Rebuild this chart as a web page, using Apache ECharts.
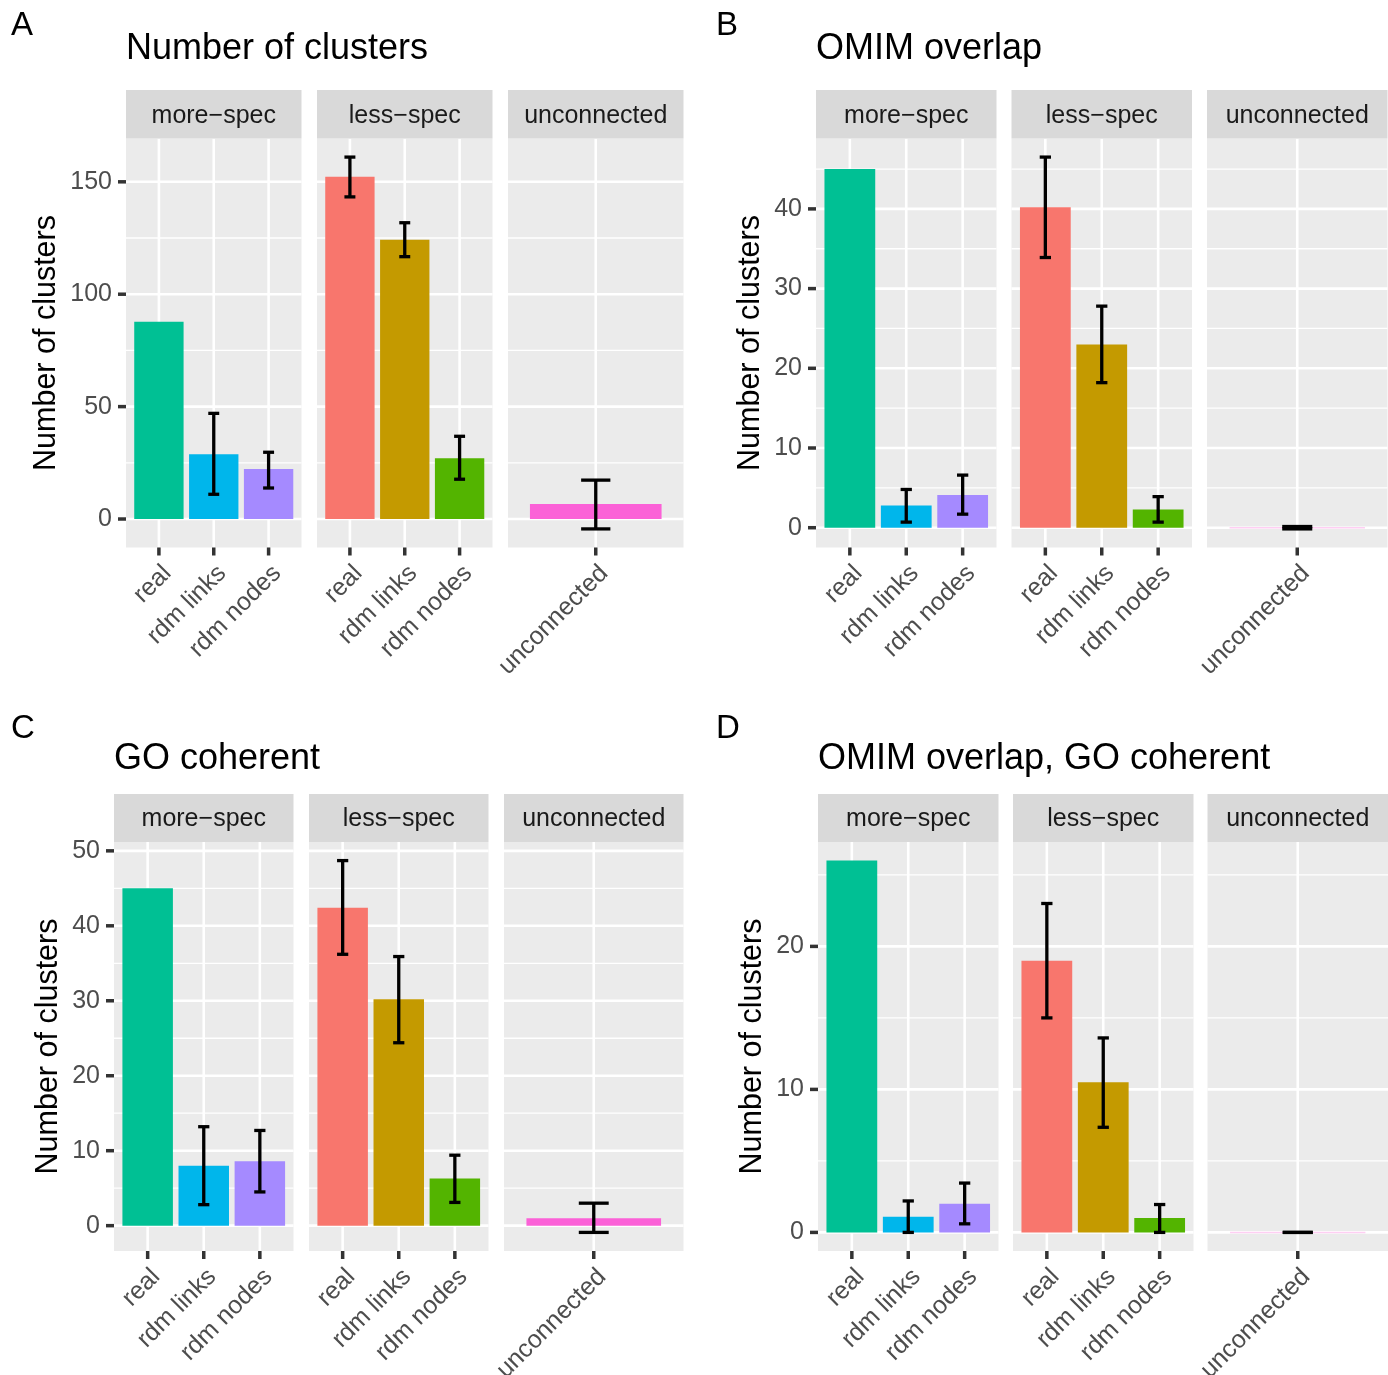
<!DOCTYPE html>
<html><head><meta charset="utf-8">
<script src="https://cdn.jsdelivr.net/npm/echarts@6.0.0/dist/echarts.min.js"></script>
<style>html,body{margin:0;padding:0;background:#fff}#c{width:1388px;height:1375px}</style>
</head><body><div id="c"></div>
<script>
// ---------- data ----------
const categories = ['real', 'rdm links', 'rdm nodes'];
const unconnectedCategories = ['unconnected'];
const facetLabels = ['more\u2212spec', 'less\u2212spec', 'unconnected'];
const panelTitles = ['Number of clusters', 'OMIM overlap', 'GO coherent', 'OMIM overlap, GO coherent'];
const panelLetters = ['A', 'B', 'C', 'D'];
const yAxisTitle = 'Number of clusters';

const moreSpecColors = ['#00C094', '#00B6EB', '#A58AFF'];
const lessSpecColors = ['#F8766D', '#C49A00', '#53B400'];
const unconnectedColors = ['#FB61D7'];

// Panel A: Number of clusters
const A_moreSpec = [87.8, 28.8, 22.2];
const A_moreSpecLow = [null, 11.0, 13.8];
const A_moreSpecHigh = [null, 47.0, 29.7];
const A_lessSpec = [152.2, 124.2, 27.0];
const A_lessSpecLow = [143.3, 116.7, 17.7];
const A_lessSpecHigh = [161.0, 131.8, 36.8];
const A_unconnected = [6.7];
const A_unconnectedLow = [-4.4];
const A_unconnectedHigh = [17.3];
const A_yTicks = [0, 50, 100, 150];
const A_yMinor = [25, 75, 125];

// Panel B: OMIM overlap
const B_moreSpec = [45.0, 2.8, 4.1];
const B_moreSpecLow = [null, 0.7, 1.7];
const B_moreSpecHigh = [null, 4.8, 6.6];
const B_lessSpec = [40.2, 23.0, 2.3];
const B_lessSpecLow = [33.9, 18.2, 0.7];
const B_lessSpecHigh = [46.5, 27.8, 3.9];
const B_unconnected = [0];
const B_unconnectedLow = [-0.15];
const B_unconnectedHigh = [0.15];
const B_yTicks = [0, 10, 20, 30, 40];
const B_yMinor = [5, 15, 25, 35, 45];

// Panel C: GO coherent
const C_moreSpec = [45.0, 8.0, 8.6];
const C_moreSpecLow = [null, 2.8, 4.5];
const C_moreSpecHigh = [null, 13.2, 12.7];
const C_lessSpec = [42.4, 30.2, 6.3];
const C_lessSpecLow = [36.2, 24.4, 3.1];
const C_lessSpecHigh = [48.7, 35.9, 9.4];
const C_unconnected = [1.0];
const C_unconnectedLow = [-0.9];
const C_unconnectedHigh = [3.0];
const C_yTicks = [0, 10, 20, 30, 40, 50];
const C_yMinor = [5, 15, 25, 35, 45];

// Panel D: OMIM overlap, GO coherent
const D_moreSpec = [26.0, 1.1, 2.0];
const D_moreSpecLow = [null, 0.0, 0.6];
const D_moreSpecHigh = [null, 2.2, 3.45];
const D_lessSpec = [19.0, 10.5, 1.0];
const D_lessSpecLow = [15.0, 7.35, 0.0];
const D_lessSpecHigh = [23.0, 13.6, 1.95];
const D_unconnected = [0];
const D_unconnectedLow = [0];
const D_unconnectedHigh = [0];
const D_yTicks = [0, 10, 20];
const D_yMinor = [5, 15, 25];

// ---------- assemble ----------
function facetSet(ms, msl, msh, ls, lsl, lsh, un, unl, unh) {
  return [
    { cats: categories, colors: moreSpecColors, v: ms, lo: msl, hi: msh },
    { cats: categories, colors: lessSpecColors, v: ls, lo: lsl, hi: lsh },
    { cats: unconnectedCategories, colors: unconnectedColors, v: un, lo: unl, hi: unh }
  ];
}
const panelData = [
  { ticks: A_yTicks, minor: A_yMinor, facets: facetSet(A_moreSpec, A_moreSpecLow, A_moreSpecHigh, A_lessSpec, A_lessSpecLow, A_lessSpecHigh, A_unconnected, A_unconnectedLow, A_unconnectedHigh) },
  { ticks: B_yTicks, minor: B_yMinor, facets: facetSet(B_moreSpec, B_moreSpecLow, B_moreSpecHigh, B_lessSpec, B_lessSpecLow, B_lessSpecHigh, B_unconnected, B_unconnectedLow, B_unconnectedHigh) },
  { ticks: C_yTicks, minor: C_yMinor, facets: facetSet(C_moreSpec, C_moreSpecLow, C_moreSpecHigh, C_lessSpec, C_lessSpecLow, C_lessSpecHigh, C_unconnected, C_unconnectedLow, C_unconnectedHigh) },
  { ticks: D_yTicks, minor: D_yMinor, facets: facetSet(D_moreSpec, D_moreSpecLow, D_moreSpecHigh, D_lessSpec, D_lessSpecLow, D_lessSpecHigh, D_unconnected, D_unconnectedLow, D_unconnectedHigh) }
];

// layout (pixels)
const layouts = [
  { lefts: [126, 317, 508], w: 175.5, stripTop: 90, plotTop: 138.5, plotH: 409, titleX: 126, titleY: 49, letterX: 11, letterY: 26, axisTitleX: 47 },
  { lefts: [816, 1011.5, 1207], w: 180.5, stripTop: 90, plotTop: 138.5, plotH: 409, titleX: 816, titleY: 49, letterX: 716, letterY: 26, axisTitleX: 751 },
  { lefts: [114, 309, 504], w: 179.5, stripTop: 794, plotTop: 842, plotH: 409, titleX: 114, titleY: 759, letterX: 11, letterY: 729, axisTitleX: 49 },
  { lefts: [818, 1013, 1207.5], w: 180.5, stripTop: 794, plotTop: 842, plotH: 409, titleX: 818, titleY: 759, letterX: 716, letterY: 729, axisTitleX: 753 }
];

const FONT = "'Liberation Sans', Arial, Helvetica, sans-serif";
const grids = [], xAxes = [], yAxes = [], series = [], graphics = [];

panelData.forEach((pd, pi) => {
  const L = layouts[pi];
  // shared y range (ggplot: 5% expansion of data range incl. 0)
  let lo = 0, hi = 0;
  pd.facets.forEach(f => {
    f.v.forEach(v => { lo = Math.min(lo, v); hi = Math.max(hi, v); });
    f.lo.forEach(v => { if (v != null) lo = Math.min(lo, v); });
    f.hi.forEach(v => { if (v != null) hi = Math.max(hi, v); });
  });
  const pad = (hi - lo) * 0.05;
  const yMin = lo - pad, yMax = hi + pad;

  // titles
  graphics.push({ type: 'text', x: L.letterX, y: L.letterY, style: { text: panelLetters[pi], font: '33px ' + FONT, fill: '#000', align: 'left', verticalAlign: 'middle' } });
  graphics.push({ type: 'text', x: L.titleX, y: L.titleY, style: { text: panelTitles[pi], font: '36px ' + FONT, fill: '#000', align: 'left', verticalAlign: 'middle' } });
  graphics.push({ type: 'text', x: L.axisTitleX, y: L.plotTop + L.plotH / 2, rotation: Math.PI / 2, style: { text: yAxisTitle, font: '30.5px ' + FONT, fill: '#000', align: 'center', verticalAlign: 'middle' } });

  pd.facets.forEach((f, fi) => {
    const gi = grids.length;
    const left = L.lefts[fi];
    grids.push({ left: left, top: L.plotTop, width: L.w, height: L.plotH, show: true, backgroundColor: '#EBEBEB', borderWidth: 0, outerBoundsMode: 'none', containLabel: false });
    // strip
    graphics.push({ type: 'rect', shape: { x: left, y: L.stripTop, width: L.w, height: L.plotTop - L.stripTop }, style: { fill: '#D9D9D9' } });
    graphics.push({ type: 'text', x: left + L.w / 2, y: L.stripTop + (L.plotTop - L.stripTop) / 2 + 1.5, style: { text: facetLabels[fi], font: '25px ' + FONT, fill: '#1A1A1A', align: 'center', verticalAlign: 'middle' } });

    const n = f.cats.length;
    const vals = f.cats.map((_, i) => i + 1);
    const unitPx = L.w / (n + 0.2);
    const shift = 8.5 / unitPx;
    xAxes.push({
      gridIndex: gi, type: 'value', min: 0.4, max: n + 0.6,
      axisLine: { show: false }, splitLine: { show: false }, minorSplitLine: { show: false },
      axisTick: { show: false },
      axisLabel: { show: true, customValues: vals.map(v => v + shift), rotate: 45, margin: 22, fontSize: 25, color: '#4D4D4D', fontFamily: FONT,
        showMinLabel: true, showMaxLabel: true, hideOverlap: false,
        formatter: (v) => f.cats[Math.round(v) - 1] }
    });
    yAxes.push({
      gridIndex: gi, type: 'value', min: yMin, max: yMax,
      axisLine: { show: false }, splitLine: { show: false },
      axisTick: { show: false },
      axisLabel: { show: fi === 0, customValues: pd.ticks, margin: 14, fontSize: 25, color: '#4D4D4D', fontFamily: FONT, hideOverlap: false }
    });

    // grid lines
    const gl = [];
    pd.minor.forEach(v => gl.push([1, v, 1]));
    pd.ticks.forEach(v => gl.push([1, v, 2]));
    vals.forEach(v => gl.push([v, 0, 3]));
    series.push({
      type: 'custom', xAxisIndex: gi, yAxisIndex: gi, data: gl, silent: true, z: 1, clip: true,
      renderItem: (params, api) => {
        const cs = params.coordSys;
        const kind = api.value(2);
        if (kind === 3) {
          const p = api.coord([api.value(0), 0]);
          return { type: 'line', shape: { x1: p[0], y1: cs.y, x2: p[0], y2: cs.y + cs.height }, style: { stroke: '#FFFFFF', lineWidth: 2.6 } };
        }
        const p = api.coord([1, api.value(1)]);
        return { type: 'line', shape: { x1: cs.x, y1: p[1], x2: cs.x + cs.width, y2: p[1] }, style: { stroke: '#FFFFFF', lineWidth: kind === 2 ? 2.6 : 1.3 } };
      }
    });

    // axis tick marks (x ticks at categories, y ticks on first facet)
    const tk = [];
    vals.forEach(v => tk.push([v, 0, 0]));
    if (fi === 0) pd.ticks.forEach(v => tk.push([1, v, 1]));
    series.push({
      type: 'custom', xAxisIndex: gi, yAxisIndex: gi, data: tk, silent: true, z: 4, clip: false,
      renderItem: (params, api) => {
        const cs = params.coordSys;
        const st = { stroke: '#333333', lineWidth: 3.5, lineCap: 'butt' };
        if (api.value(2) === 0) {
          const p = api.coord([api.value(0), 0]);
          const yb = cs.y + cs.height;
          return { type: 'line', shape: { x1: p[0], y1: yb, x2: p[0], y2: yb + 8 }, style: st };
        }
        const p = api.coord([1, api.value(1)]);
        return { type: 'line', shape: { x1: cs.x - 8, y1: p[1], x2: cs.x, y2: p[1] }, style: st };
      }
    });

    // bars
    series.push({
      type: 'custom', xAxisIndex: gi, yAxisIndex: gi, z: 2, silent: true, clip: false,
      data: f.v.map((v, i) => ({ value: [i + 1, v], itemStyle: { color: f.colors[i] } })),
      renderItem: (params, api) => {
        const x = api.value(0), v = api.value(1);
        const p0 = api.coord([x - 0.45, v]);
        const p1 = api.coord([x + 0.45, 0]);
        const color = api.visual('color');
        const h = Math.abs(p1[1] - p0[1]);
        if (h < 0.5) {
          return { type: 'line', shape: { x1: p0[0], y1: p1[1], x2: p1[0], y2: p1[1] }, style: { stroke: color, lineWidth: 1.5, opacity: 0.3 } };
        }
        return { type: 'rect', shape: { x: p0[0], y: Math.min(p0[1], p1[1]), width: p1[0] - p0[0], height: h }, style: { fill: color } };
      }
    });

    // error bars
    const eb = [];
    f.lo.forEach((l, i) => { if (l != null) eb.push([i + 1, l, f.hi[i]]); });
    series.push({
      type: 'custom', xAxisIndex: gi, yAxisIndex: gi, z: 3, silent: true, clip: false,
      data: eb,
      renderItem: (params, api) => {
        const x = api.value(0), l = api.value(1), h = api.value(2);
        const pl = api.coord([x, l]), ph = api.coord([x, h]);
        const wl = api.coord([x - 0.1, l]), wr = api.coord([x + 0.1, l]);
        const st = { stroke: '#000000', lineWidth: 3.3, lineCap: 'butt' };
        return { type: 'group', children: [
          { type: 'line', shape: { x1: pl[0], y1: pl[1], x2: ph[0], y2: ph[1] }, style: st },
          { type: 'line', shape: { x1: wl[0], y1: pl[1], x2: wr[0], y2: pl[1] }, style: st },
          { type: 'line', shape: { x1: wl[0], y1: ph[1], x2: wr[0], y2: ph[1] }, style: st }
        ] };
      }
    });
  });
});

const chart = echarts.init(document.getElementById('c'), null, { renderer: 'canvas' });
chart.setOption({
  backgroundColor: '#FFFFFF',
  animation: false,
  grid: grids,
  xAxis: xAxes,
  yAxis: yAxes,
  series: series,
  graphic: { elements: graphics.map(g => Object.assign({ z: 100, silent: true }, g)) }
});
</script>
</body></html>
